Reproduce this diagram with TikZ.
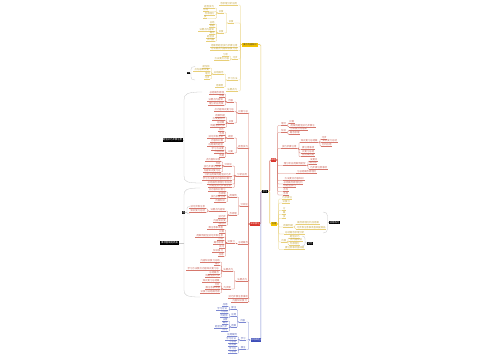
\documentclass[tikz,border=0pt]{standalone}
\usepackage{fontspec}
\setmainfont{Noto Sans CJK SC}
\definecolor{rd}{HTML}{D6776C}
\definecolor{rdT}{HTML}{C9665C}
\definecolor{rdF}{HTML}{D9342B}
\definecolor{yl}{HTML}{E8CF78}
\definecolor{ylT}{HTML}{C4A84A}
\definecolor{ylF}{HTML}{F2C200}
\definecolor{bl}{HTML}{7C88D2}
\definecolor{blT}{HTML}{5A66B8}
\definecolor{blF}{HTML}{3D4DB8}
\definecolor{sm}{HTML}{C8C8C8}
\ExplSyntaxOn
\tl_const:Nn \c_mm_fill_tl {学习方法要点内容知识复习总结概念原理分析应用案例题型技巧步骤注意事项基础提高拓展训练练习记忆理解掌握运用实践能力思维逻辑表达阅读写作计算推理实验观察归纳演绎比较分类评价反思改进目标计划}
\NewDocumentCommand\mmfill{mm}{\tl_range:Nnn \c_mm_fill_tl {#1}{#1+#2-1}}
\ExplSyntaxOff
\tikzset{
 leafn/.style={inner sep=0.15pt, font=\fontsize{2.4}{2.6}\selectfont, minimum height=2.9pt},
 conn/.style={draw=#1, line width=0.3pt, rounded corners=0.8pt},
 trunk/.style={draw=#1, line width=0.6pt, rounded corners=1pt},
 mbox/.style={fill=#1, inner sep=0pt, text=white, font=\fontsize{2.2}{2.4}\selectfont},
 sumbox/.style={fill=black, inner sep=0pt, text=white, font=\fontsize{2.4}{2.6}\selectfont},
 sumline/.style={draw=sm, line width=0.3pt},
}
\newcommand\mmleaf[7]{%
 \pgfmathtruncatemacro\mmn{max(1,(#5-#4)/2.5)}%
 \pgfmathtruncatemacro\mms{1+mod(round(#6*3),30)}%
 \node[leafn, text=#7T, minimum width={(#5-#4)*1pt}, anchor=south west] (#1) at (#4,#6) {\mmfill{\mms}{\mmn}};%
 \draw[#7, line width=0.3pt] (#1.south west) -- (#1.south east);%
 \ifx L#3\draw[conn=#7] (#2) -- ++(-1.5,0) |- (#1.south east);%
 \else\draw[conn=#7] (#2) -- ++(1.5,0) |- (#1.south west);\fi}
\begin{document}
\begin{tikzpicture}[x=1pt,y=-1pt]
\fill[white] (0,0) rectangle (500,360);
\useasboundingbox (0,0) rectangle (500,360);
% main boxes
\node[mbox=black, minimum width=6pt, minimum height=3pt] (C) at (265,191.5) {\mmfill{1}{2}};
\node[mbox=ylF, text=black!75, minimum width=16pt, minimum height=4pt] (LY) at (250,44.5) {\mmfill{5}{6}};
\node[mbox=rdF, minimum width=10pt, minimum height=3.5pt] (LR) at (255,224) {\mmfill{9}{4}};
\node[mbox=blF, minimum width=10pt, minimum height=4pt] (LB) at (255.5,340) {\mmfill{13}{4}};
\node[mbox=rdF, minimum width=5pt, minimum height=3.5pt] (RR) at (273.5,160) {\mmfill{17}{2}};
\node[mbox=ylF, text=black!75, minimum width=6pt, minimum height=3.5pt] (RY) at (274,224) {\mmfill{21}{2}};
% trunks
\draw[trunk=yl] (C.west) -- ++(-1,0) |- (LY.east);
\draw[trunk=rd] (C.west) -- ++(-1,0) |- (LR.east);
\draw[trunk=bl] (C.west) -- ++(-1,0) |- (LB.east);
\draw[trunk=rd] (C.east) -- ++(1.5,0) |- (RR.west);
\draw[trunk=yl] (C.east) -- ++(1.5,0) |- (RY.west);
% ---- left yellow
\mmleaf{Y1}{LY.west}{L}{219}{238}{5}{yl}
\mmleaf{Y2}{LY.west}{L}{228}{234}{23}{yl}
\mmleaf{Y2a}{Y2.south west}{L}{218}{224}{13}{yl}
\mmleaf{Y2a1}{Y2a.south west}{L}{203}{215}{8}{yl}
\mmleaf{Y2a2}{Y2a.south west}{L}{203}{208}{11.5}{yl}
\mmleaf{Y2a3}{Y2a.south west}{L}{204}{215}{15}{yl}
\mmleaf{Y2a4}{Y2a.south west}{L}{203}{207}{18.5}{yl}
\mmleaf{Y2b}{Y2.south west}{L}{218}{224}{33}{yl}
\mmleaf{Y2b1}{Y2b.south west}{L}{209}{215}{24}{yl}
\mmleaf{Y2b2}{Y2b.south west}{L}{209}{215}{27.5}{yl}
\mmleaf{Y2b3}{Y2b.south west}{L}{198}{215}{31}{yl}
\mmleaf{Y2b4}{Y2b.south west}{L}{209}{215}{34.5}{yl}
\mmleaf{Y2b5}{Y2b.south west}{L}{206}{215}{38}{yl}
\mmleaf{Y2b6}{Y2b.south west}{L}{206}{215}{41.5}{yl}
\mmleaf{Y3}{LY.west}{L}{210}{238}{47}{yl}
\mmleaf{Y4}{LY.west}{L}{210}{238}{50.5}{yl}
\mmleaf{Y5}{LY.west}{L}{232}{238}{59}{yl}
\mmleaf{Y51}{Y5.south west}{L}{222}{229}{56}{yl}
\mmleaf{Y52}{Y5.south west}{L}{214}{229}{60.5}{yl}
\mmleaf{Y6}{LY.west}{L}{227}{238}{80}{yl}
\mmleaf{Y6a}{Y6.south west}{L}{213}{224}{74}{yl}
\mmleaf{Y6a1}{Y6a.south west}{L}{202}{210}{68}{yl}
\mmleaf{Y6a2}{Y6a.south west}{L}{193}{210}{71.5}{yl}
\mmleaf{Y6a3}{Y6a.south west}{L}{205}{210}{75.5}{yl}
\mmleaf{Y6a4}{Y6a.south west}{L}{204}{210}{79}{yl}
\mmleaf{Y6b}{Y6.south west}{L}{215}{224}{87}{yl}
\mmleaf{Y7}{LY.west}{L}{226}{238}{91}{yl}
% ---- left red
\mmleaf{R1}{LR.west}{L}{238}{248}{113}{rd}
\mmleaf{R1a}{R1.south west}{L}{227}{234}{102}{rd}
\mmleaf{R1a1}{R1a.south west}{L}{209}{224}{94}{rd}
\mmleaf{R1a2}{R1a.south west}{L}{219}{224}{97.5}{rd}
\mmleaf{R1a3}{R1a.south west}{L}{207}{224}{101}{rd}
\mmleaf{R1a4}{R1a.south west}{L}{208}{224}{105.5}{rd}
\mmleaf{R1m}{R1.south west}{L}{214}{234}{111.5}{rd}
\mmleaf{R1b}{R1.south west}{L}{228}{234}{123}{rd}
\mmleaf{R1b1}{R1b.south west}{L}{215}{225}{117}{rd}
\mmleaf{R1b2}{R1b.south west}{L}{212}{225}{120.5}{rd}
\mmleaf{R1b3}{R1b.south west}{L}{216}{225}{124}{rd}
\mmleaf{R1b4}{R1b.south west}{L}{210}{225}{127.5}{rd}
\mmleaf{R2}{LR.west}{L}{238}{248}{148}{rd}
\mmleaf{R2a}{R2.south west}{L}{227}{234}{138}{rd}
\mmleaf{R2a1}{R2a.south west}{L}{218}{224}{131.5}{rd}
\mmleaf{R2a2}{R2a.south west}{L}{219}{224}{135}{rd}
\mmleaf{R2a3}{R2a.south west}{L}{207}{224}{138.5}{rd}
\mmleaf{R2a4}{R2a.south west}{L}{210}{224}{142}{rd}
\mmleaf{R2b}{R2.south west}{L}{227}{234}{153}{rd}
\mmleaf{R2b1}{R2b.south west}{L}{207}{224}{146.5}{rd}
\mmleaf{R2b2}{R2b.south west}{L}{211}{224}{150}{rd}
\mmleaf{R2b3}{R2b.south west}{L}{214}{224}{153.5}{rd}
\mmleaf{R2b4}{R2b.south west}{L}{219}{224}{157.5}{rd}
\mmleaf{R3}{LR.west}{L}{236}{248}{176}{rd}
\mmleaf{R3a}{R3.south west}{L}{224}{232}{166}{rd}
\mmleaf{R3a1}{R3a.south west}{L}{205}{221}{161.5}{rd}
\mmleaf{R3a2}{R3a.south west}{L}{215}{221}{165}{rd}
\mmleaf{R3a3}{R3a.south west}{L}{203}{221}{168.5}{rd}
\mmleaf{R3a4}{R3a.south west}{L}{203}{221}{172}{rd}
\mmleaf{R3b}{R3.south west}{L}{203}{232}{176}{rd}
\mmleaf{R3c}{R3.south west}{L}{202}{232}{180}{rd}
\mmleaf{R3d}{R3.south west}{L}{207}{232}{184}{rd}
\mmleaf{R3e}{R3.south west}{L}{208}{232}{187.5}{rd}
\mmleaf{R4}{LR.west}{L}{240}{248}{206}{rd}
\mmleaf{R4a}{R4.south west}{L}{229}{237}{197}{rd}
\mmleaf{R4a1}{R4a.south west}{L}{208}{226}{191.5}{rd}
\mmleaf{R4a2}{R4a.south west}{L}{218}{226}{195}{rd}
\mmleaf{R4a3}{R4a.south west}{L}{210}{226}{198.5}{rd}
\mmleaf{R4a4}{R4a.south west}{L}{214}{226}{202}{rd}
\mmleaf{R4m}{R4.south west}{L}{229}{237}{215}{rd}
\mmleaf{R4b}{R4m.south west}{L}{209}{226}{211}{rd}
\mmleaf{R4b1}{R4b.south west}{L}{189}{206}{208.5}{rd}
\mmleaf{R4b2}{R4b.south west}{L}{189}{206}{212.5}{rd}
\mmleaf{R4m1}{R4m.south west}{L}{218}{226}{218.5}{rd}
\mmleaf{R4m2}{R4m.south west}{L}{213}{226}{222}{rd}
\mmleaf{R4m3}{R4m.south west}{L}{218}{226}{225.5}{rd}
\mmleaf{R5}{LR.west}{L}{238}{248}{244}{rd}
\mmleaf{R5a}{R5.south west}{L}{227}{235}{243}{rd}
\mmleaf{R5a1}{R5a.south west}{L}{207}{224}{229.5}{rd}
\mmleaf{R5a2}{R5a.south west}{L}{219}{224}{233}{rd}
\mmleaf{R5a3}{R5a.south west}{L}{195}{224}{237}{rd}
\mmleaf{R5a4}{R5a.south west}{L}{217}{224}{240.5}{rd}
\mmleaf{R5a5}{R5a.south west}{L}{213}{224}{244.5}{rd}
\mmleaf{R5a6}{R5a.south west}{L}{219}{224}{248.5}{rd}
\mmleaf{R5a7}{R5a.south west}{L}{212}{224}{252.5}{rd}
\mmleaf{R5a8}{R5a.south west}{L}{218}{224}{256.5}{rd}
\mmleaf{R6}{LR.west}{L}{236}{248}{281}{rd}
\mmleaf{R6a}{R6.south west}{L}{223}{233}{271}{rd}
\mmleaf{R6a1}{R6a.south west}{L}{200}{220}{262}{rd}
\mmleaf{R6a2}{R6a.south west}{L}{214}{220}{265.5}{rd}
\mmleaf{R6a3}{R6a.south west}{L}{186}{220}{270}{rd}
\mmleaf{R6a4}{R6a.south west}{L}{208}{220}{274}{rd}
\mmleaf{R6a5}{R6a.south west}{L}{205}{220}{277.5}{rd}
\mmleaf{R6b}{R6.south west}{L}{223}{231}{289}{rd}
\mmleaf{R6b1}{R6b.south west}{L}{202}{220}{282.5}{rd}
\mmleaf{R6b2}{R6b.south west}{L}{214}{220}{286}{rd}
\mmleaf{R6b3}{R6b.south west}{L}{205}{220}{289.5}{rd}
\mmleaf{R6b4}{R6b.south west}{L}{200}{220}{293}{rd}
\mmleaf{R7}{LR.west}{L}{228}{248}{298.5}{rd}
\mmleaf{R8}{LR.west}{L}{231}{248}{302}{rd}
% ---- left blue
\mmleaf{B1}{LB.west}{L}{239}{246}{322}{bl}
\mmleaf{B1a}{B1.south west}{L}{231}{236}{309.5}{bl}
\mmleaf{B1a1}{B1a.south west}{L}{222}{228}{306.5}{bl}
\mmleaf{B1a2}{B1a.south west}{L}{216}{228}{310}{bl}
\mmleaf{B1b}{B1.south west}{L}{231}{236}{316.5}{bl}
\mmleaf{B1b1}{B1b.south west}{L}{220}{228}{313.5}{bl}
\mmleaf{B1b2}{B1b.south west}{L}{220}{228}{317.5}{bl}
\mmleaf{B1c}{B1.south west}{L}{231}{236}{327}{bl}
\mmleaf{B1c1}{B1c.south west}{L}{222}{228}{321}{bl}
\mmleaf{B1c2}{B1c.south west}{L}{222}{228}{324.5}{bl}
\mmleaf{B1c3}{B1c.south west}{L}{214}{228}{328}{bl}
\mmleaf{B1c4}{B1c.south west}{L}{221}{228}{331.5}{bl}
\mmleaf{B2}{LB.west}{L}{240}{246}{340}{bl}
\mmleaf{B21}{B2.south west}{L}{227}{237}{336.5}{bl}
\mmleaf{B22}{B2.south west}{L}{225}{237}{340}{bl}
\mmleaf{B23}{B2.south west}{L}{228}{237}{343.5}{bl}
\mmleaf{B3}{LB.west}{L}{240}{246}{349.5}{bl}
\mmleaf{B31}{B3.south west}{L}{228}{237}{346.5}{bl}
\mmleaf{B32}{B3.south west}{L}{228}{237}{350}{bl}
\mmleaf{B33}{B3.south west}{L}{228}{237}{353.5}{bl}
% ---- right red
\mmleaf{RR1}{RR.east}{R}{281}{286}{125.5}{rd}
\mmleaf{RR11}{RR1.south east}{R}{289}{294}{123}{rd}
\mmleaf{RR12}{RR1.south east}{R}{289}{316}{127}{rd}
\mmleaf{RR2}{RR.east}{R}{281}{286}{132.5}{rd}
\mmleaf{RR21}{RR2.south east}{R}{289}{308}{130.5}{rd}
\mmleaf{RR22}{RR2.south east}{R}{289}{300}{134.5}{rd}
\mmleaf{RR3}{RR.east}{R}{281}{297}{148.5}{rd}
\mmleaf{RR3a}{RR3.south east}{R}{300}{318}{142.5}{rd}
\mmleaf{RR3a1}{RR3a.south east}{R}{321}{327}{139}{rd}
\mmleaf{RR3a2}{RR3a.south east}{R}{321}{338}{142.5}{rd}
\mmleaf{RR3a3}{RR3a.south east}{R}{321}{332}{146}{rd}
\mmleaf{RR3b}{RR3.south east}{R}{301}{315}{149.5}{rd}
\mmleaf{RR3c}{RR3.south east}{R}{301}{315}{153}{rd}
\mmleaf{RR3d}{RR3.south east}{R}{301}{315}{156.5}{rd}
\mmleaf{RR4}{RR.east}{R}{283}{306}{165.5}{rd}
\mmleaf{RR41}{RR4.south east}{R}{309}{318}{161}{rd}
\mmleaf{RR42}{RR4.south east}{R}{309}{317}{164.5}{rd}
\mmleaf{RR43}{RR4.south east}{R}{309}{328}{169}{rd}
\mmleaf{RR5}{RR.east}{R}{296}{317}{173.5}{rd}
\mmleaf{RR6}{RR.east}{R}{283}{305}{180.5}{rd}
\mmleaf{RR7}{RR.east}{R}{283}{303}{184}{rd}
\mmleaf{RR8}{RR.east}{R}{283}{296}{187.5}{rd}
\mmleaf{RR9}{RR.east}{R}{283}{288}{191.5}{rd}
\mmleaf{RR10}{RR.east}{R}{283}{288}{195}{rd}
% ---- right yellow
\mmleaf{RY1}{RY.east}{R}{282}{292}{199}{yl}
\mmleaf{RY2}{RY.east}{R}{282}{290}{203}{yl}
\mmleaf{RY3}{RY.east}{R}{282}{286}{210.5}{yl}
\mmleaf{RY4}{RY.east}{R}{282}{286}{214.5}{yl}
\mmleaf{RY5}{RY.east}{R}{282}{286}{218.5}{yl}
\mmleaf{RY6}{RY.east}{R}{283}{293}{227}{yl}
\mmleaf{RY61}{RY6.south east}{R}{296}{320}{224.5}{yl}
\mmleaf{RY62}{RY6.south east}{R}{296}{326}{229}{yl}
\mmleaf{RY7}{RY.east}{R}{284}{305}{234}{yl}
\mmleaf{RY8}{RY.east}{R}{281}{286}{242}{yl}
\mmleaf{RY81}{RY8.south east}{R}{289}{300}{238}{yl}
\mmleaf{RY82}{RY8.south east}{R}{289}{303}{241.5}{yl}
\mmleaf{RY83}{RY8.south east}{R}{289}{300}{245}{yl}
\mmleaf{RY9}{RY.east}{R}{284}{305}{249.5}{yl}
% ---- summaries
\node[sumbox, minimum width=20pt, minimum height=4.5pt] (SA) at (172.5,140) {\mmfill{25}{8}};
\node[sumbox, minimum width=19pt, minimum height=4.5pt] (SB) at (169.5,243) {\mmfill{33}{7}};
\node[sumbox, minimum width=3pt, minimum height=2.6pt] (SC) at (188.5,73) {\mmfill{3}{1}};
\node[sumbox, minimum width=3.5pt, minimum height=2.6pt] (SD) at (183.5,212.5) {\mmfill{7}{1}};
\node[sumbox, minimum width=11pt, minimum height=3.5pt] (SE) at (334.5,222.5) {\mmfill{41}{4}};
\node[sumbox, minimum width=6pt, minimum height=3pt] (SF) at (310,243.5) {\mmfill{45}{2}};
\coordinate (bA) at (184,140);
\coordinate (bB) at (184,243);
\coordinate (bC) at (191,73);
\coordinate (bD) at (187,212.5);
\coordinate (bE) at (327.5,222.5);
\coordinate (bF) at (305,241.5);
\draw[sumline] (202,92) .. controls (187,92) and (184,94) .. (184,100) -- (184,176) .. controls (184,182) and (187,183) .. (202,183);
\draw[sumline] (bA) -- (SA.east);
\draw[sumline] (200,188) .. controls (186,188) and (184,190) .. (184,195) -- (184,290) .. controls (184,295) and (186,297) .. (200,297);
\draw[sumline] (bB) -- (SB.east);
\draw[sumline] (195,66.5) .. controls (192,66.5) and (191,67.5) .. (191,69.5) -- (191,77) .. controls (191,79) and (192,80) .. (195,80);
\draw[sumline] (bC) -- (SC.east);
\draw[sumline] (190,206.5) .. controls (188,206.5) and (187,207) .. (187,208.5) -- (187,212.5) .. controls (187,213.5) and (188,214) .. (190,214);
\draw[sumline] (bD) -- (SD.east);
\draw[sumline] (323,212) .. controls (326,212) and (327.5,213.5) .. (327.5,216) -- (327.5,229) .. controls (327.5,231.5) and (326,233) .. (323,233);
\draw[sumline] (bE) -- (SE.west);
\draw[sumline] (302,236) .. controls (304,236) and (305,237) .. (305,238.5) -- (305,243.5) .. controls (305,245) and (304,246) .. (302,246);
\draw[sumline] (bF) -- (SF.west);
\end{tikzpicture}
\end{document}
